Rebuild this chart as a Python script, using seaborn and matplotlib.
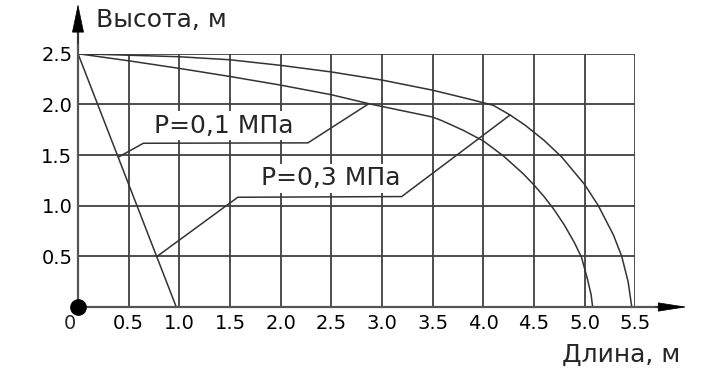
import numpy as np
import pandas as pd
import matplotlib
matplotlib.use("Agg")
import matplotlib.pyplot as plt
import seaborn as sns

# ---- data ----
upper_x = [0.0, 1.0, 1.5, 2.0, 2.5, 3.0, 3.5, 3.87, 4.1, 4.265, 4.41, 4.6, 4.775, 5.0, 5.136, 5.285, 5.367, 5.43, 5.466]
upper_y = [2.5, 2.47, 2.44, 2.385, 2.32, 2.24, 2.14, 2.05, 1.99, 1.895, 1.797, 1.645, 1.48, 1.21, 1.0, 0.711, 0.5, 0.25, 0.0]
lower_x = [0.0, 0.5, 1.0, 1.5, 2.0, 2.5, 2.9, 3.5, 3.59, 3.8, 4.0, 4.2, 4.4, 4.5, 4.6, 4.7, 4.8, 4.9, 4.97, 5.03, 5.065, 5.08]
lower_y = [2.5, 2.43, 2.355, 2.275, 2.19, 2.095, 2.0, 1.875, 1.84, 1.745, 1.64, 1.49, 1.31, 1.205, 1.09, 0.96, 0.81, 0.635, 0.49, 0.27, 0.12, 0.0]
line_x = [0.0, 0.97]
line_y = [2.5, 0.0]

lead1_x = [0.40, 0.645, 2.27, 2.86]
lead1_y = [1.48, 1.616, 1.62, 2.0]
lead3_x = [0.777, 1.577, 3.195, 4.265]
lead3_y = [0.497, 1.083, 1.09, 1.895]

x_ticks = [0.5, 1.0, 1.5, 2.0, 2.5, 3.0, 3.5, 4.0, 4.5, 5.0, 5.5]
y_ticks = [0.5, 1.0, 1.5, 2.0, 2.5]
label1 = "P=0,1 МПа"
label3 = "P=0,3 МПа"
xlabel = "Длина, м"
ylabel = "Высота, м"

sns.set_theme(style="white")
plt.rcParams['font.family'] = ['DejaVu Sans']

fig = plt.figure(figsize=(7.26, 3.80), dpi=100)
ax = fig.add_axes([78/726, (380-307)/380, 557.2/726, 253.3/380])
ax.set_xlim(0, 5.5)
ax.set_ylim(0, 2.5)

for s in ax.spines.values():
    s.set_visible(False)

ax.set_xticks(x_ticks)
ax.set_xticklabels([f"{v:.1f}" for v in x_ticks])
ax.set_yticks(y_ticks)
ax.set_yticklabels([f"{v:.1f}" for v in y_ticks])
ax.tick_params(axis='both', length=0, labelsize=14, labelcolor='black')
ax.tick_params(axis='x', pad=5)
ax.tick_params(axis='y', pad=4)
ax.grid(True, color='#404040', linewidth=1.3, zorder=0)
ax.set_axisbelow(True)

gc = '#333333'
curves = pd.concat([
    pd.DataFrame({'x': upper_x, 'y': upper_y, 'c': 'upper'}),
    pd.DataFrame({'x': lower_x, 'y': lower_y, 'c': 'lower'}),
    pd.DataFrame({'x': line_x, 'y': line_y, 'c': 'line'}),
    pd.DataFrame({'x': lead1_x, 'y': lead1_y, 'c': 'lead1'}),
    pd.DataFrame({'x': lead3_x, 'y': lead3_y, 'c': 'lead3'}),
])
sns.lineplot(data=curves, x='x', y='y', units='c', estimator=None, sort=False,
             color=gc, linewidth=1.1, ax=ax, zorder=4, legend=False)
ax.set_xlabel('')
ax.set_ylabel('')

# labels with white background
bb = dict(facecolor='white', edgecolor='none', pad=2)
ax.text(1.44, 1.72, label1, fontsize=18, ha='center', va='baseline', bbox=bb, zorder=3)
ax.text(2.49, 1.20, label3, fontsize=18, ha='center', va='baseline', bbox=bb, zorder=3)

# axes with arrows
ax.plot([0, 5.95], [0, 0], color='#555555', lw=1.6, clip_on=False, zorder=5)
ax.plot([0, 0], [0, 2.85], color='#555555', lw=1.6, clip_on=False, zorder=5)
ax.annotate('', xy=(6.01, 0), xytext=(5.7, 0),
            arrowprops=dict(arrowstyle='-|>,head_length=1.9,head_width=0.3',
                            color='black', lw=0.5, mutation_scale=10, shrinkA=0, shrinkB=0),
            annotation_clip=False, zorder=6)
ax.annotate('', xy=(0, 2.99), xytext=(0, 2.6),
            arrowprops=dict(arrowstyle='-|>,head_length=1.9,head_width=0.4',
                            color='black', lw=0.5, mutation_scale=10, shrinkA=0, shrinkB=0),
            annotation_clip=False, zorder=6)
ax.plot([0], [0], 'o', color='black', markersize=11, clip_on=False, zorder=7)

ax.text(-0.08, -0.16, "0", fontsize=14, ha='center', va='center', clip_on=False)
ax.text(0.178, 2.83, ylabel, fontsize=18, ha='left', va='center', clip_on=False)
ax.text(5.94, -0.47, xlabel, fontsize=18, ha='right', va='center', clip_on=False)

fig.savefig('out.png', dpi=100, facecolor='white')
